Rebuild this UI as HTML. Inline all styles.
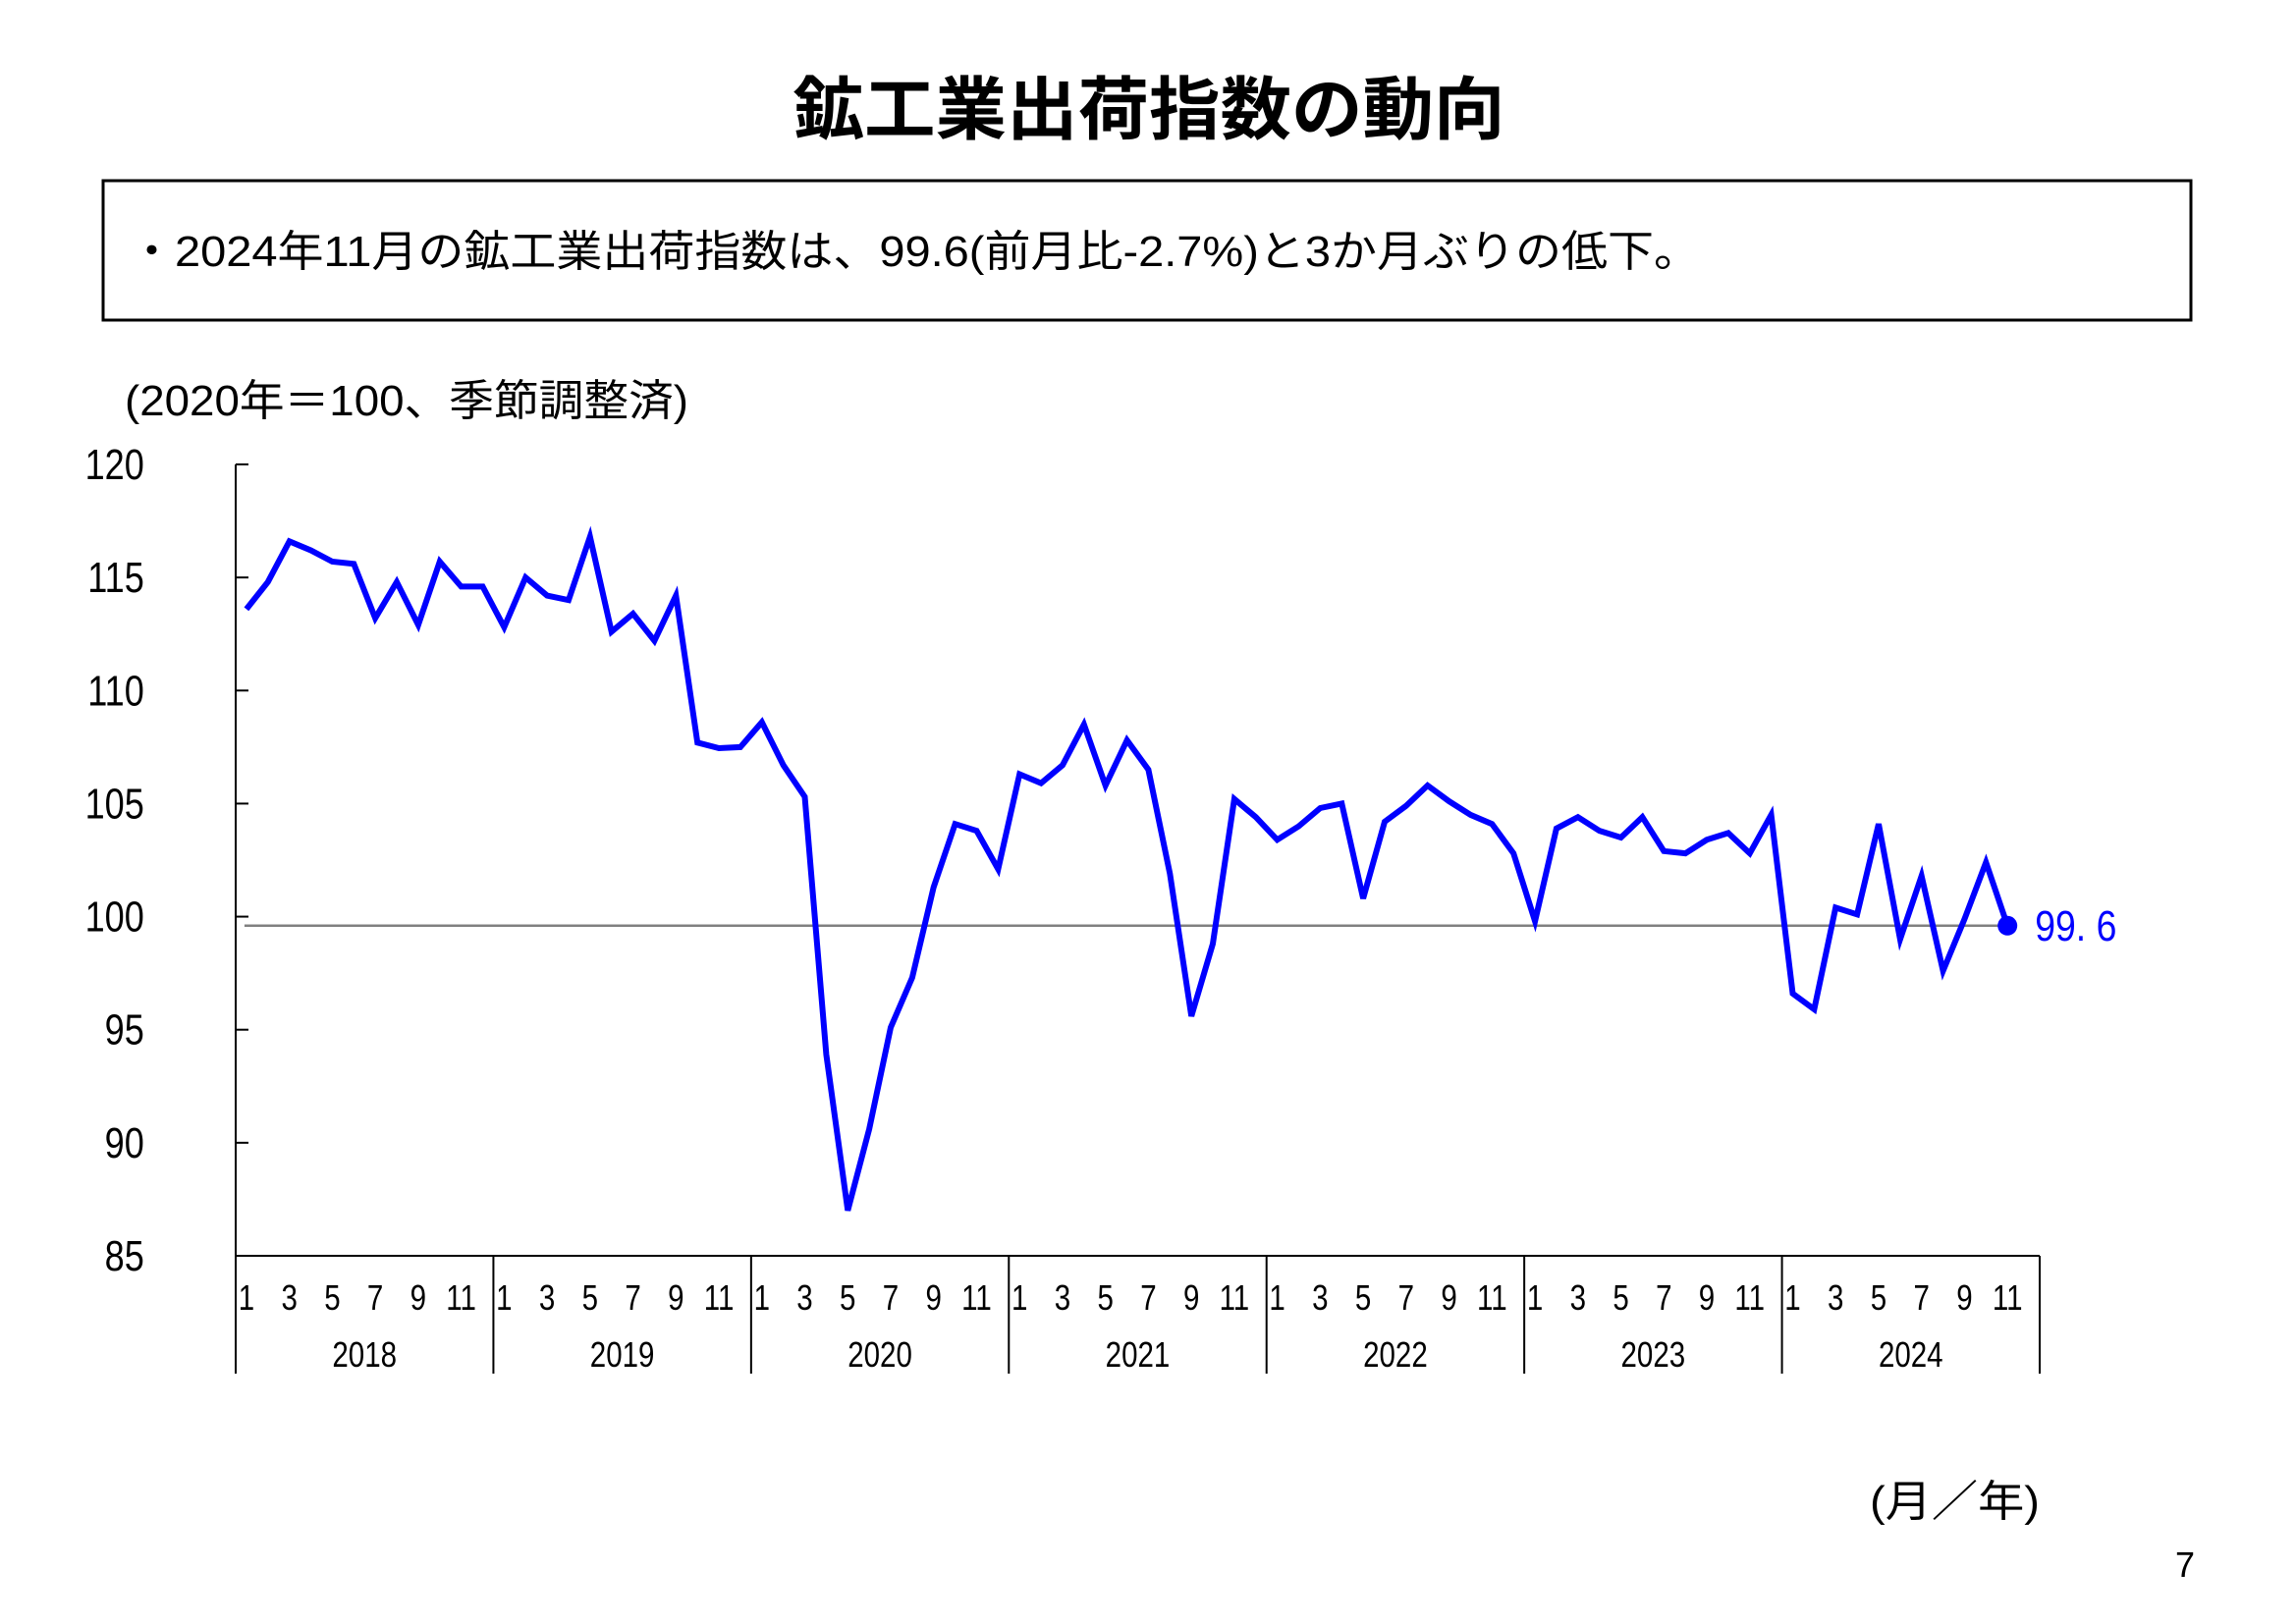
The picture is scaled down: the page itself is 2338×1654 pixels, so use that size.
<!DOCTYPE html>
<html><head><meta charset="utf-8"><style>
html,body{margin:0;padding:0;background:#fff;}
svg{display:block;font-family:"Liberation Sans","Noto Sans CJK JP",sans-serif;}
</style></head><body>
<svg id="chart" width="2338" height="1654" viewBox="0 0 2338 1654" xmlns="http://www.w3.org/2000/svg">
<text x="1170" y="136" text-anchor="middle" font-size="70" font-weight="bold" textLength="725" lengthAdjust="spacingAndGlyphs" font-family="Noto Sans CJK JP, sans-serif">鉱工業出荷指数の動向</text>
<rect x="105" y="184" width="2126" height="142" fill="none" stroke="#000" stroke-width="3"/>
<text x="131" y="271" font-size="44" textLength="1600" lengthAdjust="spacingAndGlyphs">・2024年11月の鉱工業出荷指数は、99.6(前月比-2.7%)と3か月ぶりの低下。</text>
<text x="127" y="423" font-size="44" textLength="574" lengthAdjust="spacingAndGlyphs">(2020年＝100、季節調整済)</text>
<text x="1904" y="1544" font-size="44" textLength="173" lengthAdjust="spacingAndGlyphs">(月／年)</text>
<text x="2225" y="1606" font-size="36" text-anchor="middle">7</text>
<g id="axes"></g>
<g id="marks"></g>
</svg>
<script>
const yTicks = [85,90,95,100,105,110,115,120];
const years = ["2018","2019","2020","2021","2022","2023","2024"];
const monthLabels = ["1","3","5","7","9","11"];
const values2018 = [113.6,114.8,116.6,116.2,115.7,115.6,113.2,114.8,112.9,115.7,114.6,114.6];
const values2019 = [112.8,115.0,114.2,114.0,116.8,112.6,113.4,112.2,114.2,107.7,107.45,107.5];
const values2020 = [108.6,106.7,105.3,93.9,87.0,90.6,95.1,97.3,101.3,104.1,103.8,102.1];
const values2021 = [106.3,105.9,106.7,108.5,105.8,107.8,106.5,101.9,95.6,98.8,105.2,104.4];
const values2022 = [103.4,104.0,104.8,105.0,100.8,104.2,104.9,105.8,105.1,104.5,104.1,102.8];
const values2023 = [99.8,103.9,104.4,103.8,103.5,104.4,102.9,102.8,103.4,103.7,102.8,104.5];
const values2024 = [96.6,95.9,100.4,100.1,104.1,99.0,101.8,97.6,99.9,102.4,99.6];
const latestLabel = "99.6";
const series = [].concat(values2018,values2019,values2020,values2021,values2022,values2023,values2024);

const NS="http://www.w3.org/2000/svg";
const X0=240, X1=2077, Y0=1279, Y1=473, YMIN=85, YMAX=120;
const monthW=(X1-X0)/(years.length*12);
function xScale(i){return X0+(i+0.5)*monthW;}
function yScale(v){return Y0-(v-YMIN)/(YMAX-YMIN)*(Y0-Y1);}
function mk(tag,attrs,parent){const e=document.createElementNS(NS,tag);for(const k in attrs)e.setAttribute(k,attrs[k]);parent.appendChild(e);return e;}
const axes=document.getElementById('axes'), marks=document.getElementById('marks');

let e=mk('line',{x1:X0,y1:Y1,x2:X0,y2:Y0,stroke:'#000','stroke-width':2},axes);


e=mk('line',{x1:X0,y1:Y0,x2:X1,y2:Y0,stroke:'#000','stroke-width':2},axes);


yTicks.forEach(t=>{
  const y=yScale(t);
  let l=mk('line',{x1:X0,y1:y,x2:X0+13,y2:y,stroke:'#000','stroke-width':2},axes);
  
  
  let tx=mk('text',{x:179,y:y+15,'text-anchor':'end','font-size':44,transform:`translate(${179*0.18},0) scale(0.82,1)`},axes);
  
  
  tx.setAttribute('x',179/0.82-179*0.18/0.82);
  tx.setAttribute('transform','scale(0.82,1)');
  tx.textContent=t;
});
years.forEach((yr,k)=>{
  const xs=X0+k*12*monthW;
  let d=mk('line',{x1:xs,y1:Y0,x2:xs,y2:1399,stroke:'#000','stroke-width':2},axes);
  
  
  let yt=mk('text',{x:(xs+6*monthW)/0.82,y:1392,'text-anchor':'middle','font-size':36,transform:'scale(0.82,1)'},axes);
  
  
  yt.textContent=yr;
  monthLabels.forEach((m,j)=>{
    const i=k*12+j*2;
    let mt=mk('text',{x:xScale(i)/0.82,y:1334,'text-anchor':'middle','font-size':36,transform:'scale(0.82,1)'},axes);
    
    
    mt.textContent=m;
  });
});
e=mk('line',{x1:X1,y1:Y0,x2:X1,y2:1399,stroke:'#000','stroke-width':2},axes);



const last=series.length-1;
const lastV=series[last];
let ref=mk('line',{x1:xScale(0)-2,y1:yScale(lastV),x2:xScale(last),y2:yScale(lastV),stroke:'#808080','stroke-width':2.5},marks);


let pts=series.map((v,i)=>xScale(i).toFixed(1)+','+yScale(v).toFixed(1)).join(' ');
let pl=mk('polyline',{points:pts,fill:'none',stroke:'#0000ff','stroke-width':6,'stroke-linejoin':'miter'},marks);


let dot=mk('circle',{cx:xScale(last),cy:yScale(lastV),r:10,fill:'#0000ff'},marks);


let lt=mk('text',{x:(xScale(last)+28)/0.85,y:yScale(lastV)+15,'font-size':44,fill:'#0000ff',transform:'scale(0.85,1)'},marks);


lt.textContent=latestLabel.replace('.', '. ');
</script>
</body></html>
